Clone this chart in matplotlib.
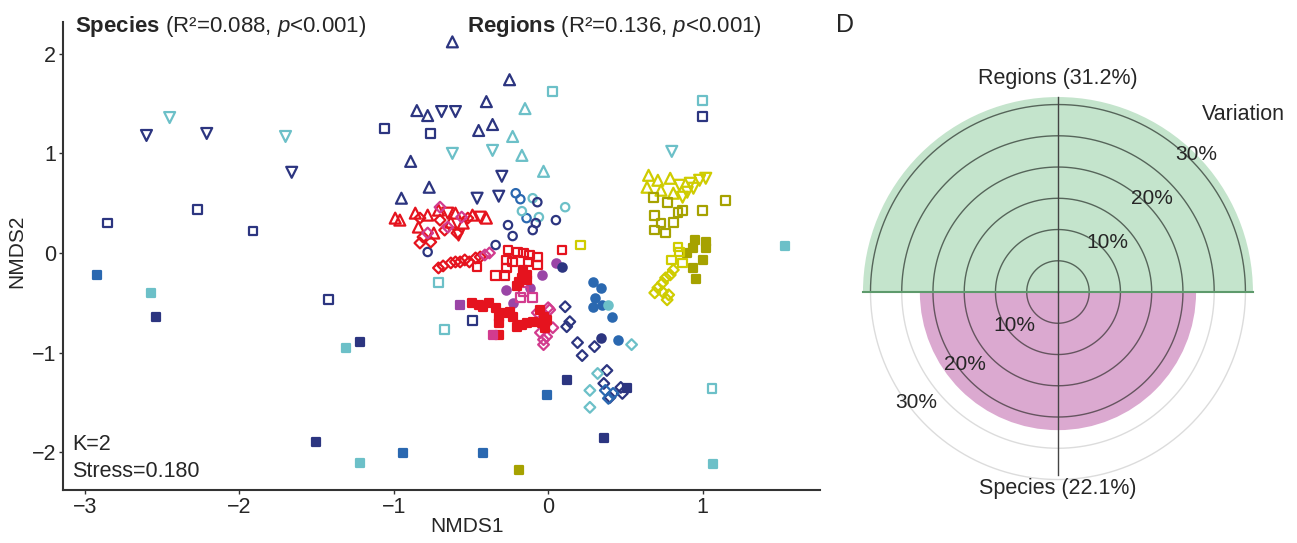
import numpy as np
import matplotlib
matplotlib.use('Agg')
import matplotlib.pyplot as plt

plt.rcParams['font.family'] = ['Liberation Sans', 'DejaVu Sans']
plt.rcParams['mathtext.fontset'] = 'custom'
plt.rcParams['mathtext.rm'] = 'Liberation Sans'
plt.rcParams['mathtext.bf'] = 'Liberation Sans:bold'
plt.rcParams['mathtext.it'] = 'Liberation Sans:italic'

# ---- NMDS scores, grouped by marker (species) and colour (region) ----
navy_up_x = [-0.62, -0.25, -0.85, -0.78, -0.40, -0.45, -0.36, -0.89, -0.77, -0.95]
navy_up_y = [2.12, 1.74, 1.43, 1.38, 1.52, 1.23, 1.29, 0.92, 0.66, 0.55]
navy_down_x = [-2.60, -2.21, -1.66, -0.69, -0.60, -0.30, -0.46, -0.32]
navy_down_y = [1.18, 1.20, 0.81, 1.42, 1.42, 0.77, 0.55, 0.57]
cyan_down_x = [-2.45, -1.70, -0.62, -0.36, 0.80]
cyan_down_y = [1.36, 1.17, 1.00, 1.03, 1.02]
cyan_up_x = [-0.15, -0.23, -0.17, -0.03]
cyan_up_y = [1.45, 1.17, 0.98, 0.82]

navy_sq_x = [-2.85, -2.27, -1.91, -1.06, -0.76, 1.00, -1.42, -0.49]
navy_sq_y = [0.30, 0.44, 0.22, 1.25, 1.20, 1.37, -0.47, -0.68]
cyan_sq_x = [0.03, 1.00, -0.71, -0.67, 1.06]
cyan_sq_y = [1.62, 1.53, -0.30, -0.77, -1.36]

navy_fsq_x = [-2.54, -1.22, -1.50, 0.12, 0.36, 0.51]
navy_fsq_y = [-0.64, -0.89, -1.90, -1.28, -1.86, -1.36]
blue_fsq_x = [-2.92, -0.94, -0.42, -0.01]
blue_fsq_y = [-0.22, -2.01, -2.01, -1.43]
cyan_fsq_x = [-2.57, -1.31, -1.22, 1.07, 1.53]
cyan_fsq_y = [-0.40, -0.95, -2.11, -2.12, 0.07]

blue_circ_x = [-0.21, -0.18, -0.14]
blue_circ_y = [0.60, 0.54, 0.35]
cyan_circ_x = [-0.10, 0.11, -0.17, -0.06]
cyan_circ_y = [0.55, 0.46, 0.42, 0.36]
navy_circ_x = [-0.07, -0.26, 0.05, -0.10, -0.23, -0.08, -0.34, -0.78]
navy_circ_y = [0.51, 0.28, 0.33, 0.23, 0.17, 0.30, 0.08, 0.01]

purple_fcirc_x = [0.05, -0.04, -0.12, -0.27, -0.23]
purple_fcirc_y = [-0.10, -0.22, -0.35, -0.37, -0.50]
navy_fcirc_x = [0.09, 0.34]
navy_fcirc_y = [-0.14, -0.85]
blue_fcirc_x = [0.29, 0.34, 0.30, 0.35, 0.29, 0.41, 0.45]
blue_fcirc_y = [-0.29, -0.35, -0.45, -0.52, -0.54, -0.64, -0.87]
cyan_fcirc_x = [0.39]
cyan_fcirc_y = [-0.52]

navy_dia_x = [0.11, 0.14, 0.12, 0.19, 0.22, 0.30, 0.38, 0.36, 0.47, 0.40, 0.48]
navy_dia_y = [-0.54, -0.69, -0.74, -0.90, -1.03, -0.94, -1.18, -1.31, -1.35, -1.45, -1.41]
blue_dia_x = [0.37, 0.42, 0.39]
blue_dia_y = [-1.38, -1.41, -1.46]
cyan_dia_x = [0.54, 0.32, 0.27, 0.27]
cyan_dia_y = [-0.92, -1.21, -1.38, -1.55]

red_up_x = [-0.99, -0.96, -0.86, -0.78, -0.71, -0.60, -0.49, -0.40, -0.84, -0.74, -0.63, -0.55]
red_up_y = [0.35, 0.33, 0.40, 0.38, 0.43, 0.40, 0.38, 0.35, 0.26, 0.20, 0.31, 0.30]
red_down_x = [-0.58, -0.65, -0.44]
red_down_y = [0.18, 0.40, 0.36]
red_dia_x = [-0.83, -0.81, -0.76, -0.70, -0.59, -0.67, -0.52, -0.83,
             -0.71, -0.68, -0.63, -0.60, -0.57, -0.54, -0.51, -0.47, -0.44]
red_dia_y = [0.35, 0.16, 0.11, 0.33, 0.20, 0.23, 0.35, 0.10,
             -0.15, -0.13, -0.10, -0.09, -0.09, -0.07, -0.09, -0.05, -0.04]
mag_dia_x = [-0.70, -0.65, -0.78, -0.56, -0.41, -0.38,
             -0.07, -0.05, -0.01, -0.03, 0.01, 0.03, 0.00, -0.03]
mag_dia_y = [0.46, 0.26, 0.20, 0.36, -0.02, 0.00,
             -0.60, -0.80, -0.84, -0.87, -0.57, -0.75, -0.55, -0.92]
red_sq_x = [-0.46, -0.26, -0.20, -0.16, -0.12, -0.07, -0.27, -0.23, -0.13, -0.07, -0.27, -0.34, -0.28, 0.09]
red_sq_y = [-0.14, 0.03, 0.01, 0.00, -0.02, -0.04, -0.07, -0.09, -0.09, -0.12, -0.15, -0.23, -0.23, 0.03]
mag_sq_x = [-0.18, -0.10, -0.16]
mag_sq_y = [-0.45, -0.45, -0.39]
red_fsq_x = [-0.16, -0.14, -0.17, -0.19, -0.14, -0.20,
             -0.49, -0.45, -0.42, -0.38, -0.34, -0.32, -0.32, -0.28, -0.25, -0.23,
             -0.32, -0.20, -0.17, -0.14, -0.10,
             -0.05, -0.03, -0.01, -0.04, -0.02]
red_fsq_y = [-0.17, -0.22, -0.25, -0.29, -0.27, -0.33,
             -0.50, -0.52, -0.54, -0.50, -0.55, -0.64, -0.70, -0.60, -0.59, -0.64,
             -0.82, -0.74, -0.72, -0.70, -0.69,
             -0.57, -0.64, -0.67, -0.70, -0.75]
purple_fsq_x = [-0.57]
purple_fsq_y = [-0.52]
mag_fsq_x = [-0.36]
mag_fsq_y = [-0.82]

yel_up_x = [0.65, 0.71, 0.79, 0.73, 0.64, 0.81]
yel_up_y = [0.78, 0.73, 0.75, 0.63, 0.66, 0.60]
yel_down_x = [0.85, 0.92, 0.98, 1.02, 0.90, 0.94, 0.87]
yel_down_y = [0.68, 0.70, 0.73, 0.75, 0.61, 0.65, 0.56]
olive_sq_x = [0.68, 0.77, 1.15, 0.69, 0.87, 1.00, 0.81, 0.73, 0.69, 0.76, 0.84]
olive_sq_y = [0.56, 0.51, 0.53, 0.38, 0.43, 0.43, 0.31, 0.30, 0.23, 0.20, 0.41]
olive_fsq_x = [0.95, 1.02, 0.94, 1.02, 0.90, 1.00, 0.94, 0.96, -0.19]
olive_fsq_y = [0.13, 0.11, 0.05, 0.05, 0.00, -0.07, -0.15, -0.26, -2.18]
yel_sq_x = [0.84, 0.85, 0.87, 0.80, 0.21]
yel_sq_y = [0.06, 0.01, -0.10, -0.07, 0.08]
yel_dia_x = [0.81, 0.79, 0.76, 0.74, 0.71, 0.74, 0.78, 0.69, 0.77]
yel_dia_y = [-0.17, -0.22, -0.25, -0.30, -0.35, -0.39, -0.42, -0.40, -0.47]

# ---- variation partitioning ----
var_labels = ['Regions', 'Species']
var_values = [31.2, 22.1]
ring_levels = [5, 10, 15, 20, 25, 30]
ring_ticks = [10, 20, 30]

navy = '#2c3580'
blue = '#2a68b0'
cyan = '#6cc0c8'
red = '#e5131e'
mag = '#d23b8e'
purple = '#9a45a6'
yel = '#cfcc00'
olive = '#a6a200'
txt = '#262626'

fig = plt.figure(figsize=(12.97, 5.43), dpi=100)

ax = fig.add_axes([0.0486, 0.0976, 0.5837, 0.862])
groups = [
    (navy_up_x, navy_up_y, '^', navy, False),
    (navy_down_x, navy_down_y, 'v', navy, False),
    (cyan_down_x, cyan_down_y, 'v', cyan, False),
    (cyan_up_x, cyan_up_y, '^', cyan, False),
    (navy_sq_x, navy_sq_y, 's', navy, False),
    (cyan_sq_x, cyan_sq_y, 's', cyan, False),
    (navy_fsq_x, navy_fsq_y, 's', navy, True),
    (blue_fsq_x, blue_fsq_y, 's', blue, True),
    (cyan_fsq_x, cyan_fsq_y, 's', cyan, True),
    (blue_circ_x, blue_circ_y, 'o', blue, False),
    (cyan_circ_x, cyan_circ_y, 'o', cyan, False),
    (navy_circ_x, navy_circ_y, 'o', navy, False),
    (purple_fcirc_x, purple_fcirc_y, 'o', purple, True),
    (navy_fcirc_x, navy_fcirc_y, 'o', navy, True),
    (blue_fcirc_x, blue_fcirc_y, 'o', blue, True),
    (cyan_fcirc_x, cyan_fcirc_y, 'o', cyan, True),
    (navy_dia_x, navy_dia_y, 'D', navy, False),
    (blue_dia_x, blue_dia_y, 'D', blue, False),
    (cyan_dia_x, cyan_dia_y, 'D', cyan, False),
    (red_up_x, red_up_y, '^', red, False),
    (red_down_x, red_down_y, 'v', red, False),
    (red_dia_x, red_dia_y, 'D', red, False),
    (mag_dia_x, mag_dia_y, 'D', mag, False),
    (red_sq_x, red_sq_y, 's', red, False),
    (mag_sq_x, mag_sq_y, 's', mag, False),
    (red_fsq_x, red_fsq_y, 's', red, True),
    (purple_fsq_x, purple_fsq_y, 's', purple, True),
    (mag_fsq_x, mag_fsq_y, 's', mag, True),
    (yel_up_x, yel_up_y, '^', yel, False),
    (yel_down_x, yel_down_y, 'v', yel, False),
    (olive_sq_x, olive_sq_y, 's', olive, False),
    (olive_fsq_x, olive_fsq_y, 's', olive, True),
    (yel_sq_x, yel_sq_y, 's', yel, False),
    (yel_dia_x, yel_dia_y, 'D', yel, False),
]
sizes = {'^': 62, 'v': 62, 's': 40, 'o': 36, 'D': 30}
for gx, gy, m, c, filled in groups:
    ax.scatter(gx, gy, marker=m, s=sizes[m],
               facecolors=c if filled else 'none', edgecolors=c, linewidths=1.6)

ax.set_xlim(-3.14, 1.76)
ax.set_ylim(-2.38, 2.32)
ax.set_xticks([-3, -2, -1, 0, 1])
ax.set_yticks([-2, -1, 0, 1, 2])
ax.set_xticklabels(['\u22123', '\u22122', '\u22121', '0', '1'])
ax.set_yticklabels(['\u22122', '\u22121', '0', '1', '2'])
for s in ['top', 'right']:
    ax.spines[s].set_visible(False)
for s in ['left', 'bottom']:
    ax.spines[s].set_color('#333333')
    ax.spines[s].set_linewidth(1.5)
ax.tick_params(colors='#333333', labelsize=15.5, length=3, width=1, labelcolor=txt, pad=2)
ax.set_xlabel('NMDS1', fontsize=15, color=txt)
ax.set_ylabel('NMDS2', fontsize=15, color=txt)
ax.xaxis.set_label_coords(0.533, -0.058)
ax.yaxis.set_label_coords(-0.048, 0.51)

ax.text(0.016, 0.99, r'$\mathbf{Species}$ (R²=0.088, $\mathit{p}$<0.001)',
        transform=ax.transAxes, fontsize=16, color=txt, va='center', ha='left')
ax.text(0.534, 0.99, r'$\mathbf{Regions}$ (R²=0.136, $\mathit{p}$<0.001)',
        transform=ax.transAxes, fontsize=16, color=txt, va='center', ha='left')
ax.text(0.012, 0.097, 'K=2', transform=ax.transAxes, fontsize=15.5, color=txt, va='center')
ax.text(0.012, 0.04, 'Stress=0.180', transform=ax.transAxes, fontsize=15.5, color=txt, va='center')

# ---- polar panel ----
pax = fig.add_axes([0.6615, 0.0939, 0.3084, 0.7366], projection='polar')
pax.bar(np.pi / 2, var_values[0], width=np.pi, color='#c4e4cc', edgecolor='none', zorder=1)
pax.bar(3 * np.pi / 2, var_values[1], width=np.pi, color='#dba9d0', edgecolor='none', zorder=1)

full = np.linspace(0, 2 * np.pi, 361)
top = np.linspace(0, np.pi, 181)
bot = np.linspace(np.pi, 2 * np.pi, 181)
for r in ring_levels:
    pax.plot(full, np.full_like(full, r), color='#dcdcdc', lw=1, zorder=0.5)
    if r <= var_values[0]:
        pax.plot(top, np.full_like(top, r), color='#56655a', lw=1, zorder=2)
    if r <= var_values[1]:
        pax.plot(bot, np.full_like(bot, r), color='#65545f', lw=1, zorder=2)

pax.plot([0, 0], [0, var_values[0]], color='#5e9a6c', lw=1.5, zorder=3)
pax.plot([np.pi, np.pi], [0, var_values[0]], color='#5e9a6c', lw=1.5, zorder=3)
pax.plot([np.pi / 2, np.pi / 2], [0, var_values[0]], color='#444444', lw=1, zorder=3)
pax.plot([3 * np.pi / 2, 3 * np.pi / 2], [0, 29.2], color='#444444', lw=1, zorder=3)

for t in ring_ticks:
    pax.text(np.deg2rad(45), t + 1.2, f'{t}%', fontsize=15, color=txt,
             ha='center', va='center', zorder=4)
    pax.text(np.deg2rad(218), t - 1.2, f'{t}%', fontsize=15, color=txt,
             ha='center', va='center', zorder=4)

pax.text(np.pi / 2, 34.1, f'{var_labels[0]} ({var_values[0]}%)', fontsize=15.5,
         color=txt, ha='center', va='center')
pax.text(3 * np.pi / 2, 31.4, f'{var_labels[1]} ({var_values[1]}%)', fontsize=15.5,
         color=txt, ha='center', va='center')
pax.text(np.deg2rad(43.7), 41, 'Variation', fontsize=15.5, color=txt, ha='center', va='center')

pax.set_ylim(0, 32)
pax.set_xticks([])
pax.set_yticks([])
pax.grid(False)
pax.spines['polar'].set_visible(False)
pax.patch.set_alpha(0)

fig.text(845 / 1297, 1 - 25 / 543, 'D', fontsize=18, color=txt, ha='center', va='center')

fig.savefig('out.png', dpi=100)
